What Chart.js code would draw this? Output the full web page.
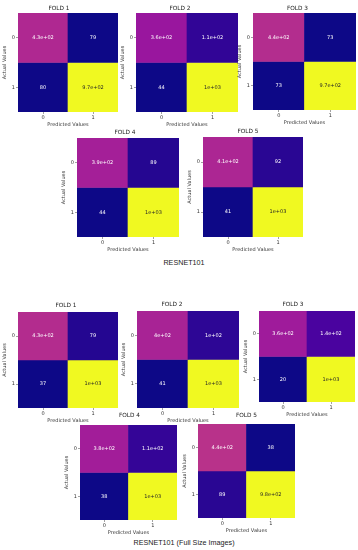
<!DOCTYPE html>
<html lang="en">
<head>
<meta charset="UTF-8">
<title>RESNET101 confusion matrices</title>
<script src="https://cdn.jsdelivr.net/npm/chart.js"></script>
<style>
    body {
        margin: 0;
        background: #ffffff;
    }
    #page {
        position: relative;
        width: 358px;
        height: 550px;
        overflow: hidden;
    }
    canvas {
        position: absolute;
    }
    .caption {
        position: absolute;
        left: 0;
        width: 358px;
        text-align: center;
        font-family: "Liberation Sans", Arial, sans-serif;
        font-size: 7.2px;
        color: #222;
        line-height: 8px;
    }
</style>
</head>
<body>
<div id="page">
    <div class="caption" style="top: 259px; left: 5px;">RESNET101</div>
    <div class="caption" style="top: 539px; left: 5px;">RESNET101 (Full Size Images)</div>
</div>

<script>
// ---- data ----
const predictedLabels = ['0', '1'];
const actualLabels = ['0', '1'];
const foldNames = ['FOLD 1', 'FOLD 2', 'FOLD 3', 'FOLD 4', 'FOLD 5'];

// confusion matrices, rows = actual, cols = predicted
const resnetFolds = [
    [[430, 79], [80, 970]],
    [[360, 110], [44, 1000]],
    [[440, 73], [73, 970]],
    [[390, 89], [44, 1000]],
    [[410, 92], [41, 1000]]
];
const fullSizeFolds = [
    [[430, 79], [37, 1000]],
    [[400, 100], [41, 1000]],
    [[360, 140], [20, 1000]],
    [[380, 110], [38, 1000]],
    [[440, 38], [89, 980]]
];

// where each matrix sits on the page (plot area box), plus title nudge
const resnetBoxes = [
    { l: 18,  t: 13,  w: 100, h: 99,  dx: -9, gap: 5 },
    { l: 136, t: 13,  w: 102, h: 99,  dx: -7, gap: 5 },
    { l: 253, t: 13,  w: 103, h: 97,  dx: -7, gap: 5 },
    { l: 77,  t: 138, w: 102, h: 99,  dx: -3, gap: 6 },
    { l: 203, t: 137, w: 100, h: 100, dx: -5, gap: 6 }
];
const fullSizeBoxes = [
    { l: 18,  t: 312, w: 100, h: 96, dx: -2,  gap: 7 },
    { l: 137, t: 311, w: 102, h: 97, dx: -16, gap: 7 },
    { l: 259, t: 311, w: 96,  h: 91, dx: -14, gap: 7 },
    { l: 80,  t: 425, w: 97,  h: 95, dx: 1,   gap: 10 },
    { l: 198, t: 424, w: 97,  h: 94, dx: 0,   gap: 9 }
];

// matplotlib "plasma" colormap stops
const plasma = ['#0d0887', '#41049d', '#6a00a8', '#8f0da4', '#b12a90', '#cc4778',
                '#e16462', '#f2844b', '#fca636', '#fcce25', '#f0f921'];

function hexToRgb(h) {
    return [1, 3, 5].map(i => parseInt(h.slice(i, i + 2), 16));
}

function plasmaRgb(t) {
    t = Math.max(0, Math.min(1, t));
    const pos = t * (plasma.length - 1);
    const i = Math.min(Math.floor(pos), plasma.length - 2);
    const f = pos - i;
    const a = hexToRgb(plasma[i]);
    const b = hexToRgb(plasma[i + 1]);
    return a.map((c, k) => Math.round(c + (b[k] - c) * f));
}

function luminance(rgb) {
    const lin = rgb.map(c => {
        c = c / 255;
        return c <= 0.03928 ? c / 12.92 : Math.pow((c + 0.055) / 1.055, 2.4);
    });
    return 0.2126 * lin[0] + 0.7152 * lin[1] + 0.0722 * lin[2];
}

// python-style '.2g'
function fmtG2(v) {
    if (v === 0) return '0';
    const e = Math.floor(Math.log10(Math.abs(v)));
    if (e >= 2 || e < -4) {
        let m = (v / Math.pow(10, e)).toFixed(1).replace(/\.0$/, '');
        return m + 'e' + (e < 0 ? '-' : '+') + String(Math.abs(e)).padStart(2, '0');
    }
    return String(Number(v.toPrecision(2)));
}

const smallFont = '"DejaVu Sans", sans-serif';

// draws the numbers inside the cells and the fold title
const cellTextPlugin = {
    id: 'cellText',
    afterDatasetsDraw(chart) {
        const ctx = chart.ctx;
        ctx.save();
        ctx.font = '5px ' + smallFont;
        ctx.textAlign = 'center';
        ctx.textBaseline = 'middle';
        chart.data.datasets.forEach((ds, i) => {
            chart.getDatasetMeta(i).data.forEach((bar, j) => {
                ctx.fillStyle = ds.textColors[j];
                ctx.fillText(fmtG2(ds.values[j]), bar.x, (bar.y + bar.base) / 2);
            });
        });
        const opts = chart.options.plugins.cellText;
        const ca = chart.chartArea;
        ctx.font = '5.8px ' + smallFont;
        ctx.fillStyle = '#222';
        ctx.fillText(opts.title, (ca.left + ca.right) / 2 + opts.dx, ca.top - opts.gap);
        ctx.restore();
    }
};

const page = document.getElementById('page');

function makeMatrix(matrix, name, box) {
    const yAxisW = 18, xAxisH = 17, topPad = 14, rightPad = 2;
    const canvas = document.createElement('canvas');
    const cw = box.w + yAxisW + rightPad;
    const chh = box.h + topPad + xAxisH;
    canvas.width = cw;
    canvas.height = chh;
    canvas.style.width = cw + 'px';
    canvas.style.height = chh + 'px';
    canvas.style.left = (box.l - yAxisW) + 'px';
    canvas.style.top = (box.t - topPad) + 'px';
    page.appendChild(canvas);

    const flat = matrix.flat();
    const vmin = Math.min(...flat), vmax = Math.max(...flat);

    const datasets = actualLabels.map((a, i) => {
        const values = matrix[i];
        const rgbs = values.map(v => plasmaRgb((v - vmin) / (vmax - vmin)));
        return {
            label: 'Actual ' + a,
            data: predictedLabels.map(() => [i, i + 1]),
            values: values,
            backgroundColor: rgbs.map(c => `rgb(${c[0]},${c[1]},${c[2]})`),
            textColors: rgbs.map(c => luminance(c) > 0.408 ? '#262626' : '#ffffff'),
            borderWidth: 0,
            barPercentage: 1,
            categoryPercentage: 1,
            grouped: false
        };
    });

    new Chart(canvas.getContext('2d'), {
        type: 'bar',
        data: { labels: predictedLabels, datasets: datasets },
        options: {
            responsive: false,
            animation: false,
            events: [],
            devicePixelRatio: 1,
            layout: { padding: { top: topPad, right: rightPad, left: 0, bottom: 0 } },
            plugins: {
                legend: { display: false },
                tooltip: { enabled: false },
                title: { display: false },
                cellText: { title: name, dx: box.dx, gap: box.gap }
            },
            scales: {
                x: {
                    grid: { drawOnChartArea: false, offset: false, tickLength: 2, color: '#444', lineWidth: 0.5 },
                    border: { display: false },
                    ticks: { font: { size: 5, family: smallFont }, color: '#333', padding: 1, maxRotation: 0 },
                    title: {
                        display: true, text: 'Predicted Values', color: '#333',
                        font: { size: 5, family: smallFont }, padding: { top: 0, bottom: 1.5 }
                    },
                    afterFit(scale) { scale.height = xAxisH; }
                },
                y: {
                    type: 'linear',
                    min: 0,
                    max: actualLabels.length,
                    reverse: true,
                    afterBuildTicks(scale) {
                        scale.ticks = actualLabels.map((_, i) => ({ value: i + 0.5 }));
                    },
                    grid: { drawOnChartArea: false, tickLength: 2, color: '#444', lineWidth: 0.5 },
                    border: { display: false },
                    ticks: {
                        font: { size: 5, family: smallFont }, color: '#333', padding: 1,
                        autoSkip: false,
                        callback: v => actualLabels[Math.floor(v)]
                    },
                    title: {
                        display: true, text: 'Actual Values', color: '#333',
                        font: { size: 5, family: smallFont }, padding: { top: 2, bottom: 0 }
                    },
                    afterFit(scale) { scale.width = yAxisW; }
                }
            }
        },
        plugins: [cellTextPlugin]
    });
}

resnetFolds.forEach((m, i) => makeMatrix(m, foldNames[i], resnetBoxes[i]));
fullSizeFolds.forEach((m, i) => makeMatrix(m, foldNames[i], fullSizeBoxes[i]));
</script>
</body>
</html>
